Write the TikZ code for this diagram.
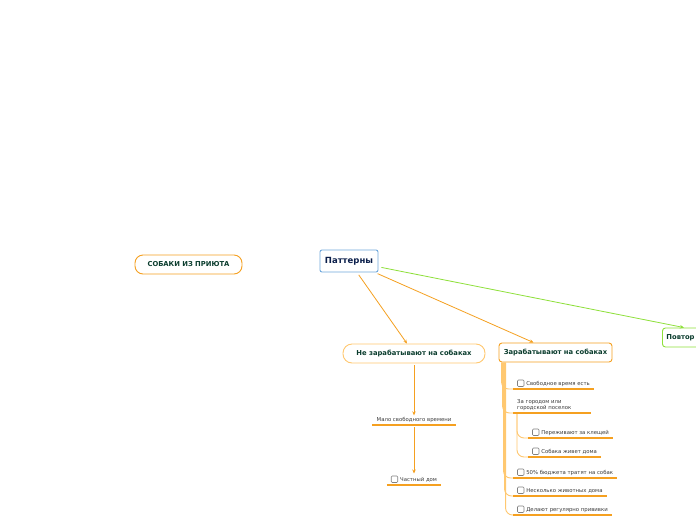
\documentclass[tikz,border=0pt]{standalone}
\usepackage{fontspec}
\setmainfont{DejaVu Sans}
\usepackage{xcolor}
\usepackage{tikz}
\usetikzlibrary{positioning,arrows.meta}
\definecolor{mapgreen}{HTML}{0B3D2E}
\definecolor{mapnavy}{HTML}{0B1F4B}
\definecolor{maporange}{HTML}{F5A020}
\definecolor{mappale}{HTML}{FFC870}
\definecolor{mapblue}{HTML}{6FA8DC}
\definecolor{maplime}{HTML}{8EE03A}
\definecolor{mapgray}{HTML}{3A3A3A}
\newcommand{\chk}{\tikz[baseline=0pt]\draw[gray,line width=0.6pt,rounded corners=1pt] (0pt,-1pt) rectangle (6.5pt,5.5pt);\hspace{2pt}}

\begin{document}
\begin{tikzpicture}[x=1pt,y=-1pt,
    font=\fontsize{5.35}{6.6}\selectfont,
    topic/.style={draw=maporange, line width=0.9pt, rounded corners=3pt, text=mapgreen,
      font=\bfseries\fontsize{6.8}{8}\selectfont, inner xsep=4pt, minimum height=19pt},
    leaf/.style={anchor=south west, inner xsep=4pt, inner ysep=2pt, text=mapgray},
    uline/.style={maporange, line width=1.2pt},
    branch/.style={mappale, line width=0.9pt, rounded corners=7pt},
    link/.style={maporange, line width=0.8pt, shorten <=3pt, -{Stealth[length=4pt,width=3.5pt]}}]
  \useasboundingbox[fill=white] (0,0) rectangle (696,520);
  % central topics
  \node[topic, rounded corners=8pt, minimum width=107pt] (shelter) at (188.5,264.5) {СОБАКИ ИЗ ПРИЮТА};
  \node[draw=mapblue, line width=0.9pt, rounded corners=2pt, text=mapnavy,
    font=\bfseries\fontsize{8.5}{10}\selectfont, minimum width=58pt, minimum height=22pt] (patterns) at (349,261) {Паттерны};
  \node[topic, draw=mappale, rounded corners=9pt, minimum width=142pt] (noearn) at (414,353.5) {Не зарабатывают на собаках};
  \node[topic, minimum width=113pt] (earn) at (555.5,352.5) {Зарабатывают на собаках};
  \node[topic, draw=maplime, anchor=west, text width=52pt, align=left] (again) at (662,337.5) {Повтор};
  \draw[link] (patterns) -- ([xshift=-7pt]noearn.north);
  \draw[link] (patterns) -- ([xshift=-22pt]earn.north);
  \draw[link, maplime] (patterns) -- ([xshift=22pt]again.north west);
  % no income
  \node[leaf, anchor=south] (little) at (414,425) {Мало свободного времени};
  \node[leaf, anchor=south] (house) at (414,485) {\chk Частный дом};
  \draw[link, shorten <=2pt] (noearn.south) -- (little.north);
  \draw[link, shorten <=2pt] (little.south) -- (house.north);
  % income
  \node[leaf] (free) at (513,389) {\chk Свободное время есть};
  \node[leaf, text width=70pt, align=left] (town) at (513,413) {За городом или\\городской поселок};
  \node[leaf] (tick) at (528,438) {\chk Переживают за клещей};
  \node[leaf] (home) at (528,457) {\chk Собака живет дома};
  \node[leaf] (budget) at (513,478) {\chk 50\% бюджета тратят на собак};
  \node[leaf] (pets) at (513,496) {\chk Несколько животных дома};
  \node[leaf] (shots) at (513,515) {\chk Делают регулярно прививки};
  \foreach \n/\s in {free/3,town/4,budget/5,pets/6,shots/7}
    \draw[branch] ([xshift=\s pt]earn.south west) |- (\n.south west);
  \foreach \n in {tick,home}
    \draw[branch] ([xshift=4pt]town.south west) |- (\n.south west);
  \foreach \n in {little,house,free,town,tick,home,budget,pets,shots}
    \draw[uline] (\n.south west) -- (\n.south east);
\end{tikzpicture}
\end{document}
